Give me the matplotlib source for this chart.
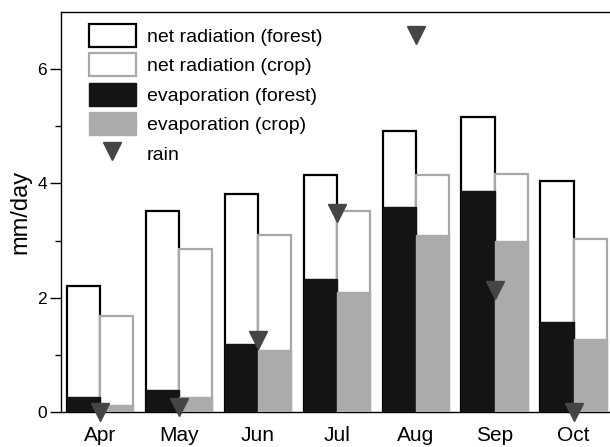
import matplotlib
matplotlib.use("Agg")
import matplotlib.pyplot as plt
import numpy as np
from matplotlib.patches import Patch
from matplotlib.lines import Line2D

plt.rcParams['font.family'] = ['Liberation Sans', 'DejaVu Sans']

months = ["Apr", "May", "Jun", "Jul", "Aug", "Sep", "Oct"]
netrad_forest = [2.20, 3.51, 3.81, 4.14, 4.91, 5.16, 4.04]
netrad_crop = [1.68, 2.86, 3.09, 3.52, 4.14, 4.16, 3.03]
evap_forest = [0.27, 0.38, 1.19, 2.32, 3.59, 3.86, 1.57]
evap_crop = [0.12, 0.27, 1.08, 2.10, 3.09, 2.99, 1.27]
rain = [0.0, 0.08, 1.26, 3.48, 6.60, 2.13, 0.0]

fig = plt.figure(figsize=(6.10, 4.47), dpi=100)
ax = fig.add_axes([0.1, 0.0783, 0.9, 0.8947])

x = np.arange(len(months))
w = 0.42
xf = x - w / 2
xc = x + w / 2

ax.bar(xf, netrad_forest, width=w, facecolor='white', edgecolor='black', linewidth=1.6, zorder=2)
ax.bar(xc, netrad_crop, width=w, facecolor='white', edgecolor='#a8a8a8', linewidth=1.6, zorder=2)
ax.bar(xf, evap_forest, width=w, facecolor='#141414', edgecolor='#141414', linewidth=1.0, zorder=3)
ax.bar(xc, evap_crop, width=w, facecolor='#ababab', edgecolor='#ababab', linewidth=1.0, zorder=3)
ax.plot(x, rain, linestyle='none', marker='v', markersize=13, color='#454545', zorder=5, clip_on=False)

ax.set_xlim(-0.49, 6.46)
ax.set_ylim(0, 7)
ax.set_xticks(x)
ax.set_xticklabels(months, fontsize=15)
ax.tick_params(axis='x', length=0, pad=10)
ax.set_yticks([0, 2, 4, 6])
ax.set_yticks([1, 3, 5], minor=True)
ax.tick_params(axis='y', which='major', length=8, width=1, labelsize=12.5, pad=2)
ax.tick_params(axis='y', which='minor', length=4.5, width=1)
ax.set_ylabel("mm/day", fontsize=17, labelpad=4)
ax.spines['right'].set_visible(False)
for s in ['left', 'top', 'bottom']:
    ax.spines[s].set_linewidth(1.0)

handles = [
    Patch(facecolor='white', edgecolor='black', linewidth=1.6),
    Patch(facecolor='white', edgecolor='#a8a8a8', linewidth=1.6),
    Patch(facecolor='#141414', edgecolor='#141414'),
    Patch(facecolor='#ababab', edgecolor='#ababab'),
    Line2D([], [], linestyle='none', marker='v', markersize=13, color='#454545'),
]
labels = ["net radiation (forest)", "net radiation (crop)", "evaporation (forest)",
          "evaporation (crop)", "rain"]
ax.legend(handles, labels, loc='upper left', bbox_to_anchor=(0.03, 1.0), frameon=False,
          fontsize=14, handlelength=2.4, handleheight=1.45, labelspacing=0.33,
          handletextpad=0.57, borderaxespad=0.2)

fig.savefig("out.png", dpi=100)
